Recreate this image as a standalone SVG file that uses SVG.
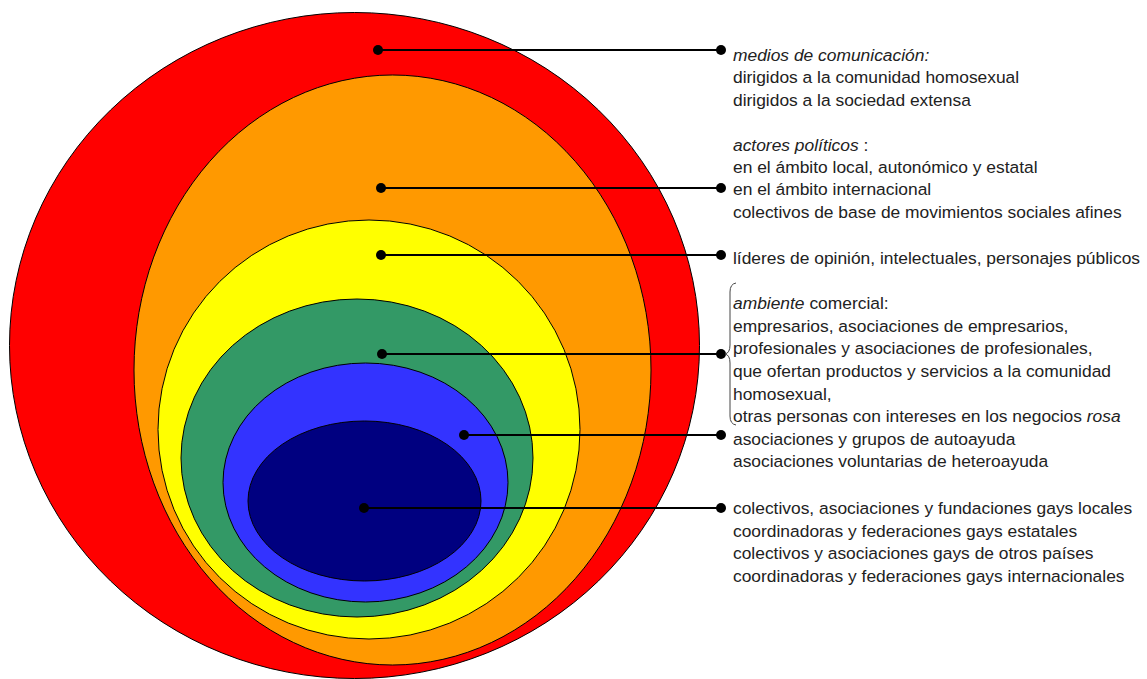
<svg xmlns="http://www.w3.org/2000/svg" width="1147" height="679" viewBox="0 0 1147 679">
<style>
.ring{stroke:#000;stroke-width:1}
.ln{stroke:#000;stroke-width:2;fill:none}
.dot{fill:#000}
text{font-family:"Liberation Sans",Arial,sans-serif;font-size:17.4px;fill:#222}
.i{font-style:italic}
</style>
<rect width="1147" height="679" fill="#fff"/>
<g id="rings">
<ellipse id="red" class="ring" cx="354.5" cy="345.5" rx="345" ry="333" fill="#FF0000"/>
<ellipse id="orange" class="ring" cx="392.5" cy="370" rx="258.5" ry="295" fill="#FF9900"/>
<ellipse id="yellow" class="ring" cx="369" cy="429.5" rx="211" ry="209.5" fill="#FFFF00"/>
<ellipse id="green" class="ring" cx="357" cy="458" rx="176" ry="159" fill="#339966"/>
<ellipse id="blue" class="ring" cx="365.5" cy="482.5" rx="142.5" ry="119.5" fill="#3333FF"/>
<ellipse id="navy" class="ring" cx="364.5" cy="501" rx="116.5" ry="80" fill="#000080"/>
</g>
<g id="connectors">
<line class="ln" x1="378" y1="50" x2="721" y2="50"/>
<line class="ln" x1="381" y1="188" x2="721" y2="188"/>
<line class="ln" x1="381" y1="255" x2="721" y2="255"/>
<line class="ln" x1="382" y1="354" x2="721" y2="354"/>
<line class="ln" x1="464" y1="435" x2="721" y2="435"/>
<line class="ln" x1="364" y1="508" x2="721" y2="508"/>
<circle class="dot" cx="378" cy="50" r="5"/><circle class="dot" cx="721" cy="50" r="5"/>
<circle class="dot" cx="381" cy="188" r="5"/><circle class="dot" cx="721" cy="188" r="5"/>
<circle class="dot" cx="381" cy="255" r="5"/><circle class="dot" cx="721" cy="255" r="5"/>
<circle class="dot" cx="382" cy="354" r="5"/><circle class="dot" cx="721" cy="354" r="5"/>
<circle class="dot" cx="464" cy="435" r="5"/><circle class="dot" cx="721" cy="435" r="5"/>
<circle class="dot" cx="364" cy="508" r="5"/><circle class="dot" cx="721" cy="508" r="5"/>
<path d="M736,283 Q730,284 730,292 L730,345 Q730,353 725,354 Q730,355 730,363 L730,416 Q730,424 736,425" fill="none" stroke="#444" stroke-width="1"/>
</g>
<g id="label-medios">
<text x="733" y="61" class="i">medios de comunicación:</text>
<text x="733" y="83">dirigidos a la comunidad homosexual</text>
<text x="733" y="106">dirigidos a la sociedad extensa</text>
</g>
<g id="label-actores">
<text x="733" y="151"><tspan class="i">actores políticos</tspan> :</text>
<text x="733" y="173">en el ámbito local, autonómico y estatal</text>
<text x="733" y="195">en el ámbito internacional</text>
<text x="733" y="218">colectivos de base de movimientos sociales afines</text>
</g>
<g id="label-lideres">
<text x="733" y="264">líderes de opinión, intelectuales, personajes públicos</text>
</g>
<g id="label-ambiente">
<text x="733" y="309"><tspan class="i">ambiente</tspan> comercial:</text>
<text x="733" y="332">empresarios, asociaciones de empresarios,</text>
<text x="733" y="354">profesionales y asociaciones de profesionales,</text>
<text x="733" y="377">que ofertan productos y servicios a la comunidad</text>
<text x="733" y="400">homosexual,</text>
<text x="733" y="422">otras personas con intereses en los negocios <tspan class="i">rosa</tspan></text>
</g>
<g id="label-ayuda">
<text x="733" y="445">asociaciones y grupos de autoayuda</text>
<text x="733" y="467">asociaciones voluntarias de heteroayuda</text>
</g>
<g id="label-colectivos">
<text x="733" y="514">colectivos, asociaciones y fundaciones gays locales</text>
<text x="733" y="537">coordinadoras y federaciones gays estatales</text>
<text x="733" y="559">colectivos y asociaciones gays de otros países</text>
<text x="733" y="582">coordinadoras y federaciones gays internacionales</text>
</g>
</svg>
